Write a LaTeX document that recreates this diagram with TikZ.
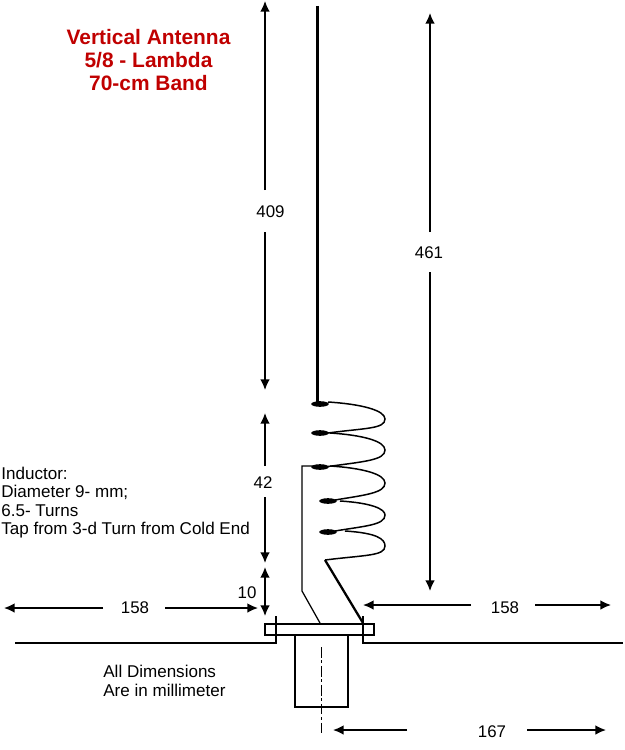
\documentclass[tikz,border=0pt]{standalone}
\usepackage{fontspec}
\setmainfont{Liberation Sans}
\usetikzlibrary{arrows.meta,shapes.geometric}
\definecolor{titlered}{RGB}{192,0,0}
\begin{document}
\begin{tikzpicture}[x=0.02cm,y=-0.02cm]
	\tikzset{dim/.style = {line width=0.85pt, -{Latex[length=6pt,width=5.4pt]}}}
	\tikzset{dimlabel/.style = {font=\fontsize{9.6}{10}\selectfont, inner sep=0pt, text height=7pt, text depth=0pt}}
	\tikzset{note/.style = {font=\fontsize{9.7}{10.4}\selectfont, inner sep=0pt, align=left, anchor=west}}
	\tikzset{part/.style = {line width=0.95pt}}
	\tikzset{blob/.style = {shape=ellipse, fill=black, inner sep=0pt, minimum width=10pt, minimum height=3.2pt}}

	\useasboundingbox (0,0) rectangle (625,750);

	% title and notes
	\node[font=\bfseries\fontsize{11.9}{13.1}\selectfont, text=titlered, align=center, inner sep=0pt] (title) at (148.5,60) {Vertical Antenna\\5/8 - Lambda\\70-cm Band};
	\node[note] (inductor) at (1,502.5) {Inductor:\\Diameter 9- mm;\\6.5- Turns\\Tap from 3-d Turn from Cold End};
	\node[note] (units) at (103,681) {All Dimensions\\Are in millimeter};

	% dimension labels
	\node[dimlabel] (L_409) at (270.5,211) {409};
	\node[dimlabel] (L_461) at (429,252) {461};
	\node[dimlabel] (L_42) at (263,482) {42};
	\node[dimlabel] (L_10) at (247,592) {10};
	\node[dimlabel] (L_158a) at (135,607) {158};
	\node[dimlabel] (L_158b) at (505,607) {158};
	\node[dimlabel] (L_167) at (492,731) {167};

	% dimension lines
	\coordinate (a1) at (265,1);
	\coordinate (a1i) at (265,190);
	\coordinate (a2i) at (265,232);
	\coordinate (a2) at (265,390);
	\coordinate (b1) at (430,13);
	\coordinate (b1i) at (430,232);
	\coordinate (b2i) at (430,272);
	\coordinate (b2) at (430,591);
	\coordinate (c1) at (265,413);
	\coordinate (c1i) at (265,466);
	\coordinate (c2i) at (265,497);
	\coordinate (c2) at (265,563);
	\coordinate (d1) at (265,567);
	\coordinate (d2) at (265,616);
	\coordinate (e1) at (4,608);
	\coordinate (e1i) at (103,608);
	\coordinate (e2i) at (165,608);
	\coordinate (e2) at (258,608);
	\coordinate (f1) at (363,605);
	\coordinate (f1i) at (471,605);
	\coordinate (f2i) at (535,605);
	\coordinate (f2) at (611,605);
	\coordinate (g1) at (333,730);
	\coordinate (g1i) at (407,730);
	\coordinate (g2i) at (527,730);
	\coordinate (g2) at (606,730);

	\draw[dim] (a1i)--(a1);
	\draw[dim] (a2i)--(a2);
	\draw[dim] (b1i)--(b1);
	\draw[dim] (b2i)--(b2);
	\draw[dim] (c1i)--(c1);
	\draw[dim] (c2i)--(c2);
	\draw[dim, {Latex[length=6pt,width=5.4pt]}-{Latex[length=6pt,width=5.4pt]}] (d1)--(d2);
	\draw[dim] (e1i)--(e1);
	\draw[dim] (e2i)--(e2);
	\draw[dim] (f1i)--(f1);
	\draw[dim] (f2i)--(f2);
	\draw[dim] (g1i)--(g1);
	\draw[dim] (g2i)--(g2);

	% radiator and coil
	\coordinate (rod_top) at (317.5,6);
	\coordinate (rod_end) at (317.5,403);
	\draw[line width=1.7pt] (rod_top)--(rod_end);

	\foreach \xa/\ya/\xb/\yb/\yt in {328/402/328/433/419, 330/433/328/466.5/450, 330/466/335/500/483, 340/501/335/531/515, 345/531/325/560/546}
		\draw[line width=0.85pt] (\xa,\ya) .. controls (\xa+32,\ya+2) and (385,\ya+8) .. (385,\yt) .. controls (385,\yt+10) and (365,\yb-5) .. (\xb,\yb);

	\node[blob] (T_1) at (320,404) {};
	\node[blob] (T_2) at (320,433) {};
	\node[blob] (T_3) at (320,467) {};
	\node[blob] (T_4) at (328,501) {};
	\node[blob] (T_5) at (328,532) {};

	% tap and feed
	\coordinate (tap_a) at (320,466);
	\coordinate (tap_b) at (302,466);
	\coordinate (tap_c) at (302,591);
	\coordinate (tap_d) at (320,623);
	\coordinate (feed_a) at (325,560);
	\coordinate (feed_b) at (363,623);
	\draw[line width=0.7pt] (tap_a)--(tap_b)--(tap_c)--(tap_d);
	\draw[line width=1.3pt] (feed_a)--(feed_b);

	% ground plane and connector
	\coordinate (gl_a) at (15,643);
	\coordinate (gl_b) at (276,643);
	\coordinate (gl_c) at (276,616);
	\coordinate (gr_a) at (623,643);
	\coordinate (gr_b) at (363,643);
	\coordinate (gr_c) at (363,616);
	\draw[part] (gl_a)--(gl_b)--(gl_c);
	\draw[part] (gr_a)--(gr_b)--(gr_c);
	\draw[part] (265,624) rectangle (374,635);
	\draw[part] (295,635) rectangle (348,707);
	\coordinate (axis_a) at (321.5,647);
	\coordinate (axis_b) at (321.5,735);
	\draw[line width=0.6pt, dash pattern=on 6pt off 1.6pt on 1.6pt off 1.6pt] (axis_a)--(axis_b);
\end{tikzpicture}
\end{document}
